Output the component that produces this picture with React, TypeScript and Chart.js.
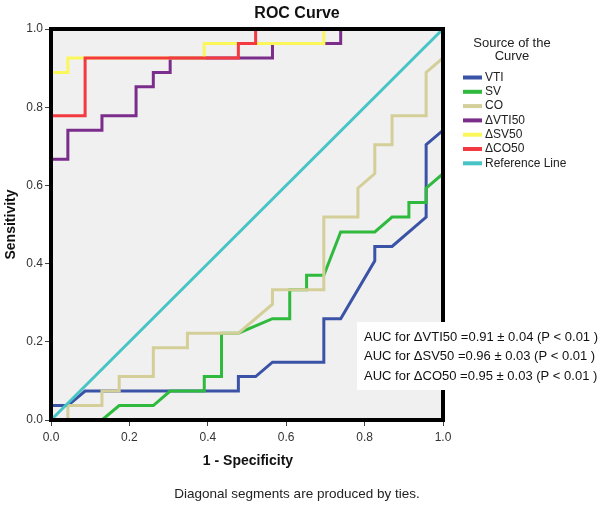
import React, { useEffect, useRef } from 'react';
import { Chart, registerables } from 'chart.js';

Chart.register(...registerables);

// ---- Data (1 - Specificity, Sensitivity) ----
const seriesLabels = ['VTI', 'SV', 'CO', 'ΔVTI50', 'ΔSV50', 'ΔCO50', 'Reference Line'];
const seriesColors = ['#3B53A6', '#2FBA3E', '#D4CF98', '#7B2D8B', '#FBF75B', '#F33A40', '#47C4C6'];

const vtiX = [0, 0, 0.043, 0.087, 0.478, 0.478, 0.522, 0.565, 0.696, 0.696, 0.739, 0.826, 0.826, 0.870, 0.957, 0.957, 1, 1];
const vtiY = [0, 0.037, 0.037, 0.074, 0.074, 0.111, 0.111, 0.148, 0.148, 0.259, 0.259, 0.407, 0.444, 0.444, 0.519, 0.704, 0.741, 1];

const svX = [0, 0.130, 0.174, 0.261, 0.304, 0.391, 0.391, 0.435, 0.435, 0.478, 0.565, 0.609, 0.609, 0.652, 0.652, 0.696, 0.739, 0.826, 0.870, 0.913, 0.913, 0.957, 0.957, 1, 1];
const svY = [0, 0, 0.037, 0.037, 0.074, 0.074, 0.111, 0.111, 0.222, 0.222, 0.259, 0.259, 0.333, 0.333, 0.370, 0.370, 0.481, 0.481, 0.519, 0.519, 0.556, 0.556, 0.593, 0.630, 1];

const coX = [0, 0.043, 0.043, 0.130, 0.130, 0.174, 0.174, 0.261, 0.261, 0.348, 0.348, 0.478, 0.565, 0.565, 0.696, 0.696, 0.783, 0.783, 0.826, 0.826, 0.870, 0.870, 0.957, 0.957, 1, 1];
const coY = [0, 0, 0.037, 0.037, 0.074, 0.074, 0.111, 0.111, 0.185, 0.185, 0.222, 0.222, 0.296, 0.333, 0.333, 0.519, 0.519, 0.593, 0.630, 0.704, 0.704, 0.778, 0.778, 0.889, 0.926, 1];

const dVti50X = [0, 0, 0.043, 0.043, 0.130, 0.130, 0.217, 0.217, 0.261, 0.261, 0.304, 0.304, 0.565, 0.565, 0.739, 0.739, 1];
const dVti50Y = [0, 0.667, 0.667, 0.741, 0.741, 0.778, 0.778, 0.852, 0.852, 0.889, 0.889, 0.926, 0.926, 0.963, 0.963, 1, 1];

const dSv50X = [0, 0, 0.043, 0.043, 0.391, 0.391, 0.696, 0.696, 1];
const dSv50Y = [0, 0.889, 0.889, 0.926, 0.926, 0.963, 0.963, 1, 1];

const dCo50X = [0, 0, 0.087, 0.087, 0.478, 0.478, 0.522, 0.522, 1];
const dCo50Y = [0, 0.778, 0.778, 0.926, 0.926, 0.963, 0.963, 1, 1];

const refX = [0, 1];
const refY = [0, 1];

const tickValues = [0, 0.2, 0.4, 0.6, 0.8, 1.0];

const chartTitle = 'ROC Curve';
const xTitle = '1 - Specificity';
const yTitle = 'Sensitivity';
const legendTitle = ['Source of the', 'Curve'];
const footnote = 'Diagonal segments are produced by ties.';
const aucLines = [
  'AUC for ΔVTI50 =0.91 ± 0.04 (P < 0.01 )',
  'AUC for ΔSV50 =0.96 ± 0.03 (P < 0.01 )',
  'AUC for ΔCO50 =0.95 ± 0.03 (P < 0.01 )',
];

const seriesX = [vtiX, svX, coX, dVti50X, dSv50X, dCo50X, refX];
const seriesY = [vtiY, svY, coY, dVti50Y, dSv50Y, dCo50Y, refY];

const FONT = '"Liberation Sans", Arial, sans-serif';

const decorPlugin = {
  id: 'rocDecor',
  beforeDatasetsDraw(chart: any) {
    const { ctx, chartArea: a } = chart;
    ctx.save();
    ctx.fillStyle = '#F0F0F0';
    ctx.fillRect(a.left, a.top, a.right - a.left, a.bottom - a.top);
    ctx.restore();
  },
  afterDatasetsDraw(chart: any) {
    const { ctx, chartArea: a } = chart;
    ctx.save();
    ctx.strokeStyle = '#000';
    ctx.lineWidth = 4;
    ctx.strokeRect(a.left, a.top, a.right - a.left, a.bottom - a.top);
    // AUC annotation box
    ctx.fillStyle = '#FFFFFF';
    ctx.fillRect(357, 322, 243, 68);
    ctx.fillStyle = '#111';
    ctx.font = `13px ${FONT}`;
    ctx.textAlign = 'left';
    ctx.textBaseline = 'middle';
    aucLines.forEach((t, i) => ctx.fillText(t, 364, 337 + i * 19.5));
    ctx.restore();
  },
  afterDraw(chart: any) {
    const { ctx, chartArea: a } = chart;
    ctx.save();
    ctx.fillStyle = '#111';
    ctx.textAlign = 'center';
    ctx.textBaseline = 'middle';
    ctx.font = `bold 16px ${FONT}`;
    ctx.fillText(chartTitle, 297, 14);
    ctx.font = `bold 14px ${FONT}`;
    ctx.fillText(xTitle, (a.left + a.right) / 2 + 1, 461);
    ctx.save();
    ctx.translate(11, (a.top + a.bottom) / 2);
    ctx.rotate(-Math.PI / 2);
    ctx.fillText(yTitle, 0, 0);
    ctx.restore();
    ctx.font = `13.5px ${FONT}`;
    ctx.fillStyle = '#222';
    ctx.fillText(footnote, 297, 494);
    // legend
    ctx.font = `13px ${FONT}`;
    ctx.fillStyle = '#222';
    legendTitle.forEach((t, i) => ctx.fillText(t, 512, 43 + i * 13.5));
    ctx.textAlign = 'left';
    ctx.font = `12px ${FONT}`;
    seriesLabels.forEach((lab, i) => {
      const y = 77.5 + i * 14.3;
      ctx.strokeStyle = seriesColors[i];
      ctx.lineWidth = 4;
      ctx.beginPath();
      ctx.moveTo(463, y);
      ctx.lineTo(482, y);
      ctx.stroke();
      ctx.fillStyle = '#222';
      ctx.fillText(lab, 485, y);
    });
    ctx.restore();
  },
};

export default function App() {
  const ref = useRef<HTMLCanvasElement | null>(null);
  useEffect(() => {
    if (!ref.current) return;
    const datasets = seriesLabels.map((label, i) => ({
      label,
      data: seriesX[i].map((x, j) => ({ x, y: seriesY[i][j] })),
      showLine: true,
      borderColor: seriesColors[i],
      backgroundColor: seriesColors[i],
      borderWidth: 3,
      pointRadius: 0,
      pointHoverRadius: 0,
      fill: false,
      tension: 0,
      order: seriesLabels.length - 1 - i,
    }));
    const tickFont = { family: FONT, size: 12 };
    const chart = new Chart(ref.current, {
      type: 'scatter',
      data: { datasets },
      options: {
        responsive: false,
        animation: false,
        events: [],
        layout: { padding: { top: 29, right: 157, left: 0, bottom: 0 } },
        plugins: { legend: { display: false }, tooltip: { enabled: false }, title: { display: false } },
        scales: {
          x: {
            type: 'linear',
            min: 0,
            max: 1,
            afterFit: (s: any) => { s.height = 88; },
            afterBuildTicks: (s: any) => { s.ticks = tickValues.map((v) => ({ value: v })); },
            ticks: { font: tickFont, color: '#333', padding: 4, maxRotation: 0, callback: (v: any) => Number(v).toFixed(1) },
            grid: { drawOnChartArea: false, drawTicks: true, tickLength: 6, color: '#444', lineWidth: 1 },
            border: { display: false },
          },
          y: {
            type: 'linear',
            min: 0,
            max: 1,
            afterFit: (s: any) => { s.width = 51; },
            afterBuildTicks: (s: any) => { s.ticks = tickValues.map((v) => ({ value: v })); },
            ticks: { font: tickFont, color: '#333', padding: 2, callback: (v: any) => Number(v).toFixed(1) },
            grid: { drawOnChartArea: false, drawTicks: true, tickLength: 6, color: '#444', lineWidth: 1 },
            border: { display: false },
          },
        },
      },
      plugins: [decorPlugin],
    } as any);
    return () => chart.destroy();
  }, []);
  return (
    <div style={{ position: 'absolute', left: 0, top: 0, width: 600, height: 508, background: '#fff' }}>
      <canvas ref={ref} width={600} height={508} style={{ display: 'block' }} />
    </div>
  );
}
